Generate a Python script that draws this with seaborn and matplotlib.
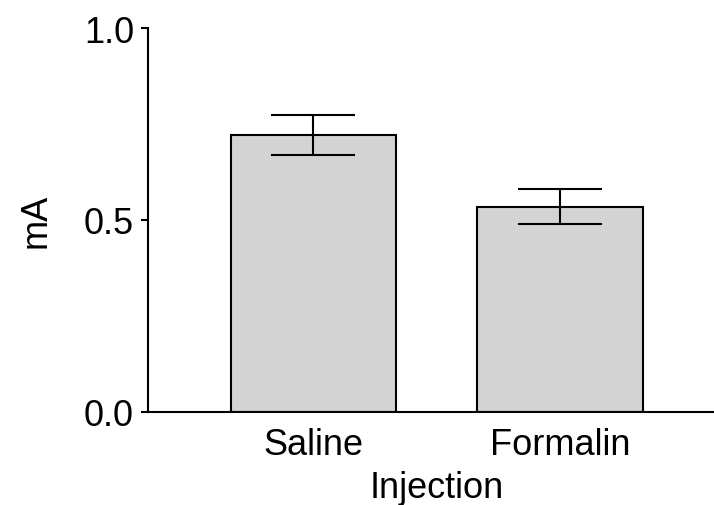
import matplotlib
matplotlib.use("Agg")
import matplotlib.pyplot as plt
import seaborn as sns
import pandas as pd

categories = ["Saline", "Formalin"]
means = [0.721, 0.534]
errors = [0.053, 0.046]

df = pd.DataFrame({"Injection": categories, "mA": means})

sns.set_style("ticks", {"text.color": "black", "axes.labelcolor": "black",
                        "xtick.color": "black", "ytick.color": "black",
                        "axes.edgecolor": "black"})
plt.rcParams['font.family'] = ['Liberation Sans', 'DejaVu Sans']

fig = plt.figure(figsize=(7.14, 5.06), dpi=100)
W, H = 714, 506
ax = fig.add_axes([148 / W, (H - 412.5) / H, (714 - 148) / W, (412.5 - 29) / H])

sns.barplot(data=df, x="Injection", y="mA", order=categories, color="#d3d3d3",
            edgecolor="black", linewidth=1.5, width=0.67, errorbar=None,
            saturation=1, ax=ax)
ax.errorbar(x=range(len(categories)), y=means, yerr=errors, fmt="none",
            ecolor="black", elinewidth=1.5, capsize=30, capthick=1.5)

ax.set_ylim(0, 1.0)
ax.set_xlim(-0.671, 1.625)
ax.set_yticks([0.0, 0.5, 1.0])
ax.set_yticklabels(["0.0", "0.5", "1.0"])
ax.tick_params(axis="y", labelsize=26, width=1.5, length=5, pad=5, colors="black")
ax.tick_params(axis="x", labelsize=26, length=0, pad=11, colors="black")
for s in ["left", "bottom"]:
    ax.spines[s].set_linewidth(1.5)
    ax.spines[s].set_color("black")
for s in ["top", "right"]:
    ax.spines[s].set_visible(False)
ax.set_xlabel("Injection", fontsize=26, labelpad=6, color="black")
ax.xaxis.label.set_x(0.511)
ax.set_ylabel("mA", fontsize=26, labelpad=22, color="black")

fig.savefig("out.png", dpi=100)
